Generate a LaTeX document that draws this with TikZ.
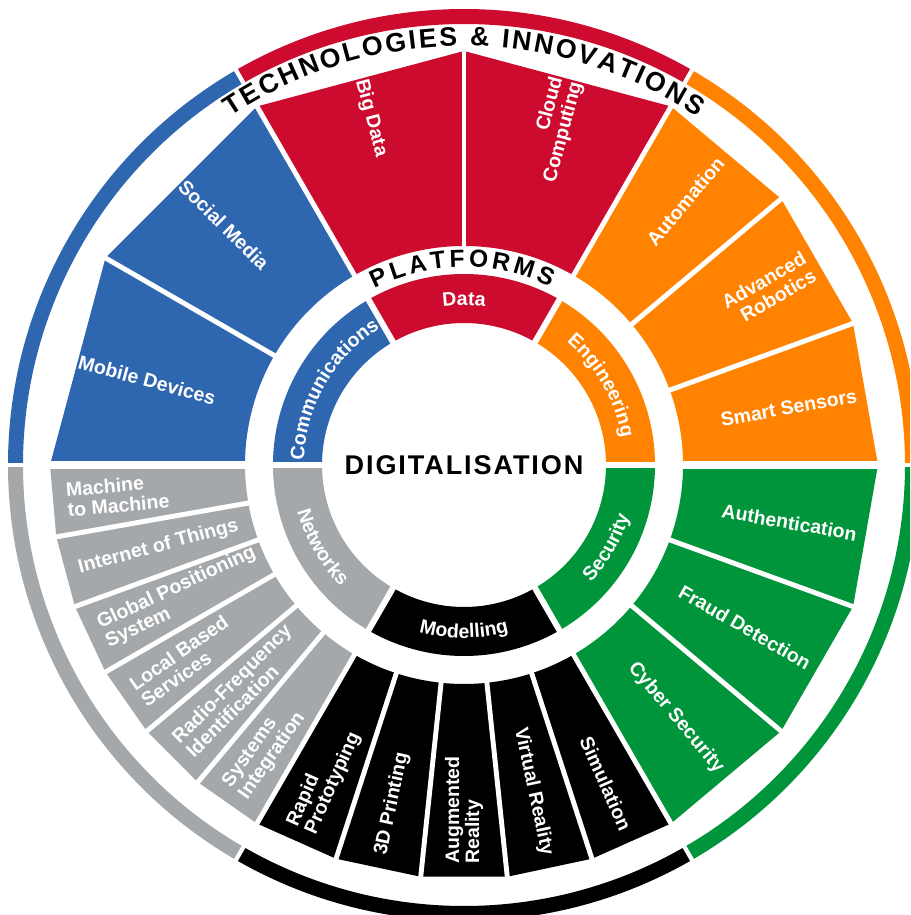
\documentclass[tikz,border=0pt]{standalone}
\usepackage{fontspec}
\setmainfont{Liberation Sans}
\usepackage{tikz}
\usetikzlibrary{decorations.text}
\usepackage{xcolor}

\newfontfamily\lblfont{Liberation Sans Bold}
\newfontfamily\digifont[LetterSpace=7]{Liberation Sans Bold}
\newcommand{\lblsize}{\lblfont\fontsize{11.1pt}{11.4pt}\selectfont}
\newcommand{\techsize}{\lblfont\fontsize{15.2pt}{17pt}\selectfont}
\newcommand{\platsize}{\lblfont\fontsize{14pt}{16pt}\selectfont}
\newcommand{\digisize}{\digifont\fontsize{15.4pt}{17pt}\selectfont}

\definecolor{commblue}{RGB}{46,102,175}
\definecolor{datared}{RGB}{205,11,46}
\definecolor{engorange}{RGB}{255,130,0}
\definecolor{secgreen}{RGB}{0,149,58}
\definecolor{modblack}{RGB}{0,0,0}
\definecolor{netgray}{RGB}{164,168,171}

\tikzset{
	techlabel/.style={text=white, inner sep=0pt, font=\lblsize},
	gapline/.style={white, line width=2.8pt},
	ringtext/.style={decorate, decoration={text along path, text align=center, text color=white, text={|\lblsize|#1}}},
	headtext/.style={decorate, decoration={text along path, text align={fit to path}, text color=black, text={#1}}},
}

\begin{document}
\begin{tikzpicture}[x=0.2mm, y=0.2mm]
	\useasboundingbox (-464,-450) rectangle (446,465);
	\clip (-464,-450) rectangle (446,465);
	\fill[white] (-464,-450) rectangle (446,465);

	\foreach \sa/\col in {120/commblue, 60/datared, 0/engorange, -60/secgreen, -120/modblack, -180/netgray}{
		\fill[\col] (\sa:441) arc[start angle=\sa, end angle=\sa+60, radius=441] -- (\sa+60:456) arc[start angle=\sa+60, end angle=\sa, radius=456] -- cycle;
		\fill[\col] (\sa:142) arc[start angle=\sa, end angle=\sa+60, radius=142] -- (\sa+60:191) arc[start angle=\sa+60, end angle=\sa, radius=191] -- cycle;
	}

	\foreach \sa/\ea/\col in {150/180/commblue, 120/150/commblue, 90/120/datared, 60/90/datared,
		40/60/engorange, 20/40/engorange, 0/20/engorange, -20/0/secgreen, -40/-20/secgreen, -60/-40/secgreen,
		-72/-60/modblack, -84/-72/modblack, -96/-84/modblack, -108/-96/modblack, -120/-108/modblack,
		-130/-120/netgray, -140/-130/netgray, -150/-140/netgray, -160/-150/netgray, -170/-160/netgray, -180/-170/netgray}
		\fill[\col] (\sa:219) -- (\sa:414) -- (\ea:414) -- (\ea:219) arc[start angle=\ea, end angle=\sa, radius=219] -- cycle;

	\foreach \g in {150,120,90,60,40,20,-20,-40,-60,-72,-84,-96,-108,-120,-130,-140,-150,-160,-170}
		\draw[gapline] (\g:212) -- (\g:420);
	\draw[gapline, line width=4pt] (180:212) -- (180:420) (0:212) -- (0:420);
	\foreach \g in {0,60,120,180,-60,-120}{
		\draw[gapline, line width=3.4pt] (\g:136) -- (\g:197);
		\draw[gapline, line width=2.4pt] (\g:436) -- (\g:462);
	}

	\foreach \ang/\nm/\txt in {165/mobile/Mobile Devices, 135/social/Social Media, 105/bigdata/Big Data,
		75/cloud/{Cloud\\Computing}, 50/automation/Automation, 30/robotics/{Advanced\\Robotics},
		10/sensors/Smart Sensors, -10/auth/Authentication, -30/fraud/Fraud Detection, -50/cyber/Cyber Security,
		-66/simulation/Simulation, -78/virtual/Virtual Reality, -90/augmented/{Augmented\\Reality},
		-102/printing/3D Printing, -114/prototyping/{Rapid\\Prototyping},
		-125/integration/{Systems\\Integration}, -135/rfid/{Radio-Frequency\\Identification},
		-145/lbs/{Local Based\\Services}, -155/gps/{Global Positioning\\System},
		-165/iot/Internet of Things, -175/m2m/{Machine\\to Machine}}{
		\pgfmathtruncatemacro\isright{cos(\ang)>0.01}
		\ifnum\isright=1
			\node[techlabel, anchor=east, align=right, rotate=\ang] (\nm) at (\ang:399) {\txt};
		\else
			\pgfmathsetmacro\rot{\ang+180}
			\node[techlabel, anchor=west, align=left, rotate=\rot] (\nm) at (\ang:399) {\txt};
		\fi
	}

	\path[ringtext=Communications] (195:160) arc[start angle=195, end angle=105, radius=160];
	\path[ringtext=Data] (135:160) arc[start angle=135, end angle=45, radius=160];
	\path[ringtext=Engineering] (75:160) arc[start angle=75, end angle=-15, radius=160];
	\path[ringtext=Security] (-75:173) arc[start angle=-75, end angle=15, radius=173];
	\path[ringtext=Modelling] (-135:173) arc[start angle=-135, end angle=-45, radius=173];
	\path[ringtext=Networks] (-195:173) arc[start angle=-195, end angle=-105, radius=173];

	\path[headtext={|\techsize|TECHNOLOGIES {\&} INNOVATIONS}] (123.8:419) arc[start angle=123.8, end angle=56.2, radius=419];
	\path[headtext={|\platsize|PLATFORMS}] (116.8:198) arc[start angle=116.8, end angle=64.2, radius=198];

	\node[font=\digisize, inner sep=0pt] (digi) at (0,0) {DIGITALISATION};
\end{tikzpicture}
\end{document}
